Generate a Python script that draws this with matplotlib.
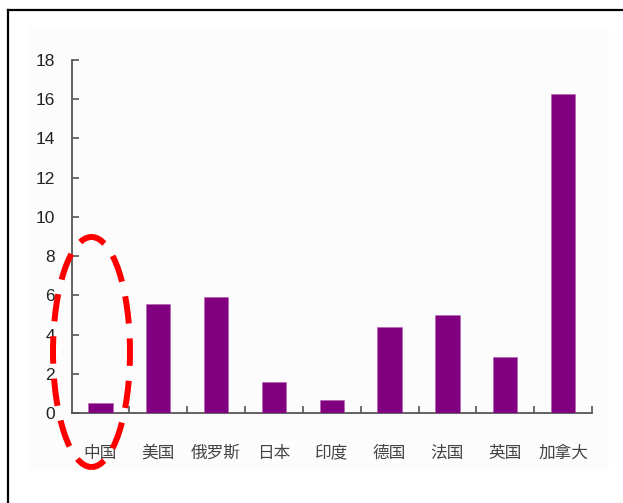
import numpy as np
import matplotlib
matplotlib.use("Agg")
import matplotlib.pyplot as plt
from matplotlib.patches import Ellipse, Rectangle
from matplotlib.lines import Line2D

countries = ["中国", "美国", "俄罗斯", "日本", "印度", "德国", "法国", "英国", "加拿大"]
values = [0.52, 5.55, 5.92, 1.57, 0.66, 4.4, 5.0, 2.84, 16.25]
yticks = [0, 2, 4, 6, 8, 10, 12, 14, 16, 18]

W, H = 623, 503
fig = plt.figure(figsize=(W / 100, H / 100), dpi=100)
fig.patch.set_facecolor("white")

# faint panel behind the chart
fig.patches.append(Rectangle((28 / W, 1 - 470 / H), (609 - 28) / W, (470 - 28) / H,
                             transform=fig.transFigure, facecolor="#fcfcfc",
                             edgecolor="none", zorder=-10))
# frame lines along the top and left
fig.lines.append(Line2D([8 / W, 1], [1 - 10 / H, 1 - 10 / H], transform=fig.transFigure,
                        color="black", lw=1.6))
fig.lines.append(Line2D([8 / W, 8 / W], [0, 1 - 10 / H], transform=fig.transFigure,
                        color="black", lw=1.6))

left, right, top, bottom = 71.5, 592, 60, 413
ax = fig.add_axes([left / W, 1 - bottom / H, (right - left) / W, (bottom - top) / H])
ax.patch.set_alpha(0)

x = np.arange(len(countries))
ax.bar(x, values, width=0.42, color="#800080", edgecolor="#b060b0", linewidth=0.4, zorder=3)

ax.set_xlim(-0.5, len(countries) - 0.5)
ax.set_ylim(0, 18)
ax.set_yticks(yticks)
ax.set_yticklabels([str(v) for v in yticks], fontfamily="Liberation Sans", fontsize=12.5,
                   color="#222222")
ax.set_xticks(x)
ax.set_xticklabels(countries, fontfamily=["Noto Sans CJK SC", "DejaVu Sans"], fontsize=12,
                   color="#444444")
ax.set_xticks(np.arange(0.5, len(countries), 1.0), minor=True)

ax.tick_params(axis="x", which="major", length=0, pad=23)
ax.tick_params(axis="x", which="minor", direction="in", length=5, width=1.2, color="#555555")
ax.tick_params(axis="y", direction="in", length=5, width=1.2, color="#555555", pad=12)

for s in ["top", "right"]:
    ax.spines[s].set_visible(False)
for s in ["left", "bottom"]:
    ax.spines[s].set_color("#555555")
    ax.spines[s].set_linewidth(1.3)

# highlight around the first category
fig.patches.append(Ellipse((91.5 / W, 1 - 352 / H), 77 / W, 230 / H,
                           transform=fig.transFigure, fill=False, edgecolor="#ff0000",
                           linewidth=4.3, linestyle=(2.16, (4.6, 2.5)), zorder=10))

fig.savefig("out.png", dpi=100)
